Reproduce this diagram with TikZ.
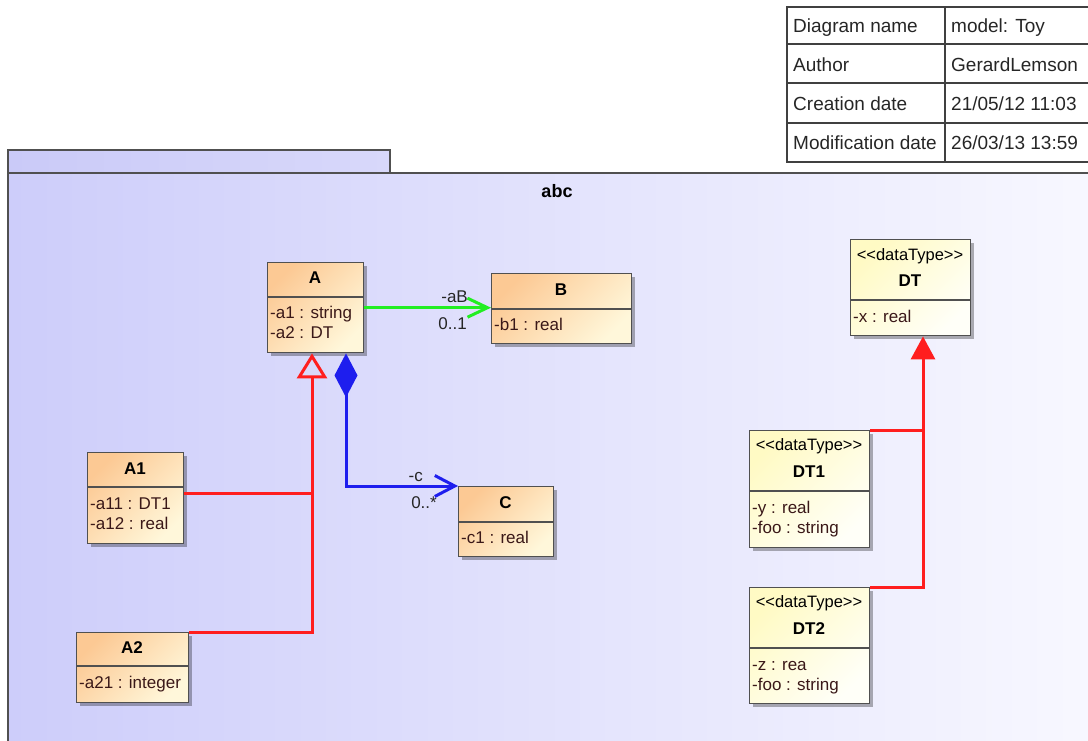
\documentclass[tikz,border=0pt]{standalone}
\usepackage{fontspec}
\setmainfont{Liberation Sans}[Ligatures=TeXOff]
\usetikzlibrary{arrows.meta,calc,shadows}
\definecolor{pkgL}{HTML}{CDCDFA}
\definecolor{pkgR}{HTML}{F8F8FF}
\definecolor{tabL}{HTML}{CACAF8}
\definecolor{tabR}{HTML}{D8D8FA}
\definecolor{clsL}{HTML}{FCC994}
\definecolor{clsR}{HTML}{FFF7DA}
\definecolor{dtL}{HTML}{FFFAC4}
\definecolor{dtR}{HTML}{FFFFF8}
\definecolor{bord}{HTML}{505050}
\definecolor{attr}{HTML}{3A1818}
\definecolor{gen}{HTML}{FF1E1E}
\definecolor{assocG}{HTML}{22EE22}
\definecolor{comp}{HTML}{1E1EEE}
\definecolor{tblc}{HTML}{404040}
\begin{document}
\begin{tikzpicture}[x=1pt,y=-1pt,
  boxbase/.style={draw=bord, line width=1.4pt, inner sep=0pt, anchor=north west,
    drop shadow={shadow xshift=3.5pt, shadow yshift=-3.5pt, fill=black, opacity=0.3}},
  classbox/.style={boxbase, left color=clsL, right color=clsR, shading angle=45},
  dtbox/.style={boxbase, left color=dtL, right color=dtR, shading angle=45},
  divline/.style={draw=bord, line width=1.4pt},
  cname/.style={font=\fontsize{17}{20}\selectfont\bfseries, anchor=base, inner sep=0pt},
  stereo/.style={font=\fontsize{16.5}{19}\selectfont, anchor=base, inner sep=0pt},
  attrtxt/.style={font=\fontsize{17}{20}\selectfont, text=attr, anchor=base west, inner sep=0pt},
  lbl/.style={font=\fontsize{17}{20}\selectfont, text=black!85, anchor=base east, inner sep=0pt},
  tbltxt/.style={font=\fontsize{19}{22}\selectfont, text=black!85, anchor=base west, inner sep=0pt},
  genline/.style={draw=gen, line width=3pt},
  assocline/.style={draw=assocG, line width=3pt},
  compline/.style={draw=comp, line width=3pt},
  tblline/.style={draw=tblc, line width=2.6pt}
]
\useasboundingbox (0,0) rectangle (1088,741);
% package
\path[left color=tabL, right color=tabR] (8,150) rectangle (390,173);
\draw[draw=bord, line width=1.4pt] (8,173) -- (8,150) -- (390,150) -- (390,173);
\path[left color=pkgL, right color=pkgR] (8,173) rectangle (1100,760);
\draw[draw=bord, line width=1.4pt] (8,760) -- (8,173) -- (1100,173);
\node[font=\fontsize{18}{21}\selectfont\bfseries, anchor=base, inner sep=0pt] (pkgname) at (557,197) {abc};

% table
\draw[tblline] (787,7) rectangle (1100,162);
\draw[tblline] (787,44) -- (1100,44);
\draw[tblline] (787,83) -- (1100,83);
\draw[tblline] (787,123) -- (1100,123);
\draw[tblline] (945,7) -- (945,162);
\node[tbltxt] (t11) at (793,33) {Diagram name};
\node[tbltxt] (t12) at (951,33) {model: Toy};
\node[tbltxt] (t21) at (793,72) {Author};
\node[tbltxt] (t22) at (951,72) {GerardLemson};
\node[tbltxt] (t31) at (793,111) {Creation date};
\node[tbltxt] (t32) at (951,111) {21/05/12 11:03};
\node[tbltxt] (t41) at (793,150) {Modification date};
\node[tbltxt] (t42) at (951,150) {26/03/13 13:59};

% class A
\node[classbox, minimum width=96pt, minimum height=90pt] (A) at (267,262) {};
\node[cname] (An) at (315,283) {A};
\draw[divline] (A.west |- 0,297) -- (A.east |- 0,297);
\node[attrtxt] (Aa1) at (270,318) {-a1 : string};
\node[attrtxt] (Aa2) at (270,338) {-a2 : DT};

% class B
\node[classbox, minimum width=140pt, minimum height=70pt] (B) at (491,273) {};
\node[cname] (Bn) at (561,295) {B};
\draw[divline] (B.west |- 0,309) -- (B.east |- 0,309);
\node[attrtxt] (Ba1) at (494,330) {-b1 : real};

% class A1
\node[classbox, minimum width=96pt, minimum height=91pt] (A1) at (87,452) {};
\node[cname] (A1n) at (135,474) {A1};
\draw[divline] (A1.west |- 0,487) -- (A1.east |- 0,487);
\node[attrtxt] (A1a1) at (90,509) {-a11 : DT1};
\node[attrtxt] (A1a2) at (90,529) {-a12 : real};

% class A2
\node[classbox, minimum width=112pt, minimum height=70pt] (A2) at (76,632) {};
\node[cname] (A2n) at (132,653) {A2};
\draw[divline] (A2.west |- 0,666) -- (A2.east |- 0,666);
\node[attrtxt] (A2a1) at (79,688) {-a21 : integer};

% class C
\node[classbox, minimum width=95pt, minimum height=70pt] (C) at (458,486) {};
\node[cname] (Cn) at (505.5,508) {C};
\draw[divline] (C.west |- 0,522) -- (C.east |- 0,522);
\node[attrtxt] (Ca1) at (461,543) {-c1 : real};

% datatype DT
\node[dtbox, minimum width=120pt, minimum height=96pt] (DT) at (850,239) {};
\node[stereo] (DTs) at (910,260) {<<dataType>>};
\node[cname] (DTn) at (910,287) {DT};
\draw[divline] (DT.west |- 0,300) -- (DT.east |- 0,300);
\node[attrtxt] (DTa1) at (853,322) {-x : real};

% datatype DT1
\node[dtbox, minimum width=120pt, minimum height=117pt] (DT1) at (749,430) {};
\node[stereo] (DT1s) at (809,450) {<<dataType>>};
\node[cname] (DT1n) at (809,477) {DT1};
\draw[divline] (DT1.west |- 0,491) -- (DT1.east |- 0,491);
\node[attrtxt] (DT1a1) at (752,513) {-y : real};
\node[attrtxt] (DT1a2) at (752,533) {-foo : string};

% datatype DT2
\node[dtbox, minimum width=120pt, minimum height=116pt] (DT2) at (749,587) {};
\node[stereo] (DT2s) at (809,607) {<<dataType>>};
\node[cname] (DT2n) at (809,634) {DT2};
\draw[divline] (DT2.west |- 0,648) -- (DT2.east |- 0,648);
\node[attrtxt] (DT2a1) at (752,670) {-z : rea};
\node[attrtxt] (DT2a2) at (752,690) {-foo : string};

% association A -> B
\draw[assocline, -{Straight Barb[length=20pt,width=19pt]}] (A.east) -- (A.east -| B.west);
\node[lbl] (lab1) at (468,302) {-aB};
\node[lbl] (lab2) at (467,329) {0..1};

% generalization A1, A2 -> A
\coordinate (gA) at (A.south -| 312,0);
\draw[genline, -{Triangle[open,length=25pt,width=30pt,line width=3pt]}] (A2.north east) -| (gA);
\coordinate (a1p) at ($(A1.east)+(0,-4.5)$);
\draw[genline] (a1p) -- (a1p -| gA);

% composition A <>-> C
\coordinate (cA) at (A.south -| 346,0);
\draw[compline, {Diamond[length=44pt,width=23pt]}-{Straight Barb[length=20pt,width=21pt]}] (cA) |- (C.north west);
\node[lbl] (lab3) at (423,481) {-c};
\node[lbl] (lab4) at (437,508) {0..*};

% generalization DT1, DT2 -> DT
\coordinate (gD) at (DT.south -| 923,0);
\draw[genline, -{Triangle[length=23pt,width=24pt]}] (DT2.north east) -| (gD);
\draw[genline] (DT1.north east) -- (DT1.north east -| gD);
\end{tikzpicture}
\end{document}
